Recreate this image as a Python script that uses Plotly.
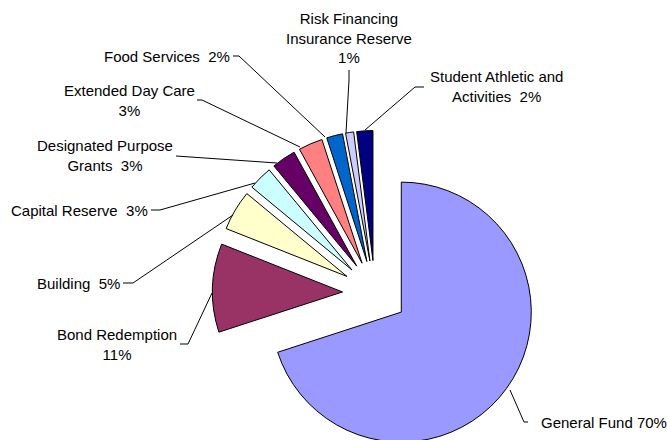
import plotly.graph_objects as go

# ---- data ----
categories = ["General Fund", "Bond Redemption", "Building", "Capital Reserve",
              "Designated Purpose Grants", "Extended Day Care", "Food Services",
              "Risk Financing Insurance Reserve", "Student Athletic and Activities"]
values = [70, 11, 5, 3, 3, 3, 2, 1, 2]
label_names = ["General Fund", "Bond Redemption", "Building", "Capital Reserve",
               "Designated Purpose<br>Grants", "Extended Day Care", "Food Services",
               "Risk Financing<br>Insurance Reserve", "Student Athletic and<br>Activities"]
label_seps = [" ", "<br>", " \u00a0", " \u00a0", " \u00a0", "<br>", " \u00a0", "<br>", " \u00a0"]

colors = ["#9999FF", "#993366", "#FFFFCC", "#CCFFFF", "#660066",
          "#FF8080", "#0066CC", "#CCCCFF", "#000080"]

W, H = 667, 480
PULL = 0.25
R = 130
CX, CY = 375, 293

def px(x):
    return x / W

def py(y):
    return 1 - y / H

box = R * (1 + PULL)

fig = go.Figure()
fig.add_trace(go.Pie(
    labels=categories, values=values, sort=False, direction="clockwise",
    rotation=0, pull=[PULL] * len(values),
    marker=dict(colors=colors, line=dict(color="black", width=1)),
    textinfo="none", hoverinfo="label+percent", showlegend=False,
    domain=dict(x=[px(CX - box), px(CX + box)], y=[py(CY + box), py(CY - box)]),
))

texts = [n + s + f"{v}%" for n, s, v in zip(label_names, label_seps, values)]

# label placement: (x, y, xanchor)
label_pos = [
    (539, 422, "left"),     # General Fund
    (117, 344, "center"),   # Bond Redemption
    (122, 283, "right"),    # Building
    (150, 210, "right"),    # Capital Reserve
    (105, 155.5, "center"), # Designated
    (129, 100, "center"),   # Extended
    (232, 56, "right"),     # Food
    (349, 38, "center"),    # Risk
    (496.5, 86, "center"),  # Student
]

leaders = [
    [(528, 422), (524, 422), (510, 390)],
    [(180, 344), (188, 344), (212, 293)],
    [(123, 283), (133, 283), (233, 215)],
    [(151, 210), (160, 210), (255, 183)],
    [(176, 156), (277, 163)],
    [(197, 100), (202, 100), (300, 147)],
    [(233, 56), (239, 56), (325, 137)],
    [(349, 70), (349, 80), (346, 133)],
    [(424, 87), (415, 87), (365, 130)],
]

annotations = []
for t, (x, y, xa) in zip(texts, label_pos):
    annotations.append(dict(
        text=t, x=px(x), y=py(y), xref="paper", yref="paper",
        xanchor=xa, yanchor="middle", showarrow=False, align="center",
        font=dict(family="Liberation Sans, Arial, sans-serif", size=15, color="black"),
    ))

shapes = []
for pts in leaders:
    path = "M " + " L ".join(f"{px(a)},{py(b)}" for a, b in pts)
    shapes.append(dict(type="path", path=path, xref="paper", yref="paper",
                       line=dict(color="black", width=1)))

fig.update_layout(
    width=W, height=H, margin=dict(l=0, r=0, t=0, b=0),
    paper_bgcolor="white", plot_bgcolor="white",
    annotations=annotations, shapes=shapes, showlegend=False,
)

fig.write_html("out.html", post_script="document.body.style.overflow='hidden';document.documentElement.style.overflow='hidden';")
